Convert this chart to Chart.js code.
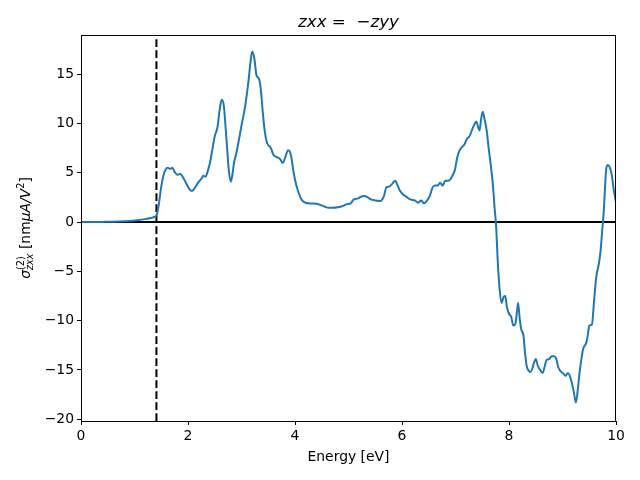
<!DOCTYPE html>
<html>
<head>
<meta charset="utf-8">
<script src="https://cdn.jsdelivr.net/npm/chart.js@4"></script>
<style>
  body { margin: 0; background: #fff; }
  #wrap { width: 640px; height: 480px; }
</style>
</head>
<body>
<div id="wrap"><canvas id="sigmaChart" width="640" height="480"></canvas></div>
<script>
// data
const energy = [
	0.00, 0.40, 0.70, 0.90, 1.05, 1.20, 1.30, 1.38, 1.42, 1.46, 1.50, 1.54, 1.58, 1.62, 1.67, 1.71, 1.75, 1.80, 1.85, 1.90,
	1.96, 2.02, 2.07, 2.12, 2.19, 2.25, 2.29, 2.33, 2.37, 2.41, 2.46, 2.50, 2.55, 2.59, 2.63, 2.67, 2.70, 2.73, 2.76, 2.80,
	2.83, 2.86, 2.90, 2.94, 3.00, 3.07, 3.13, 3.17, 3.20, 3.24, 3.28, 3.33, 3.36, 3.40, 3.44, 3.48, 3.54, 3.60, 3.66, 3.72,
	3.77, 3.82, 3.87, 3.90, 3.93, 3.97, 4.00, 4.06, 4.12, 4.18, 4.25, 4.40, 4.50, 4.62, 4.70, 4.80, 4.90, 4.96, 5.04, 5.10,
	5.18, 5.24, 5.30, 5.36, 5.42, 5.50, 5.60, 5.66, 5.71, 5.76, 5.82, 5.87, 5.92, 5.96, 6.02, 6.10, 6.15, 6.24, 6.30, 6.36,
	6.41, 6.47, 6.52, 6.57, 6.62, 6.67, 6.71, 6.76, 6.81, 6.86, 6.90, 6.95, 6.99, 7.03, 7.07, 7.12, 7.17, 7.21, 7.27, 7.32,
	7.36, 7.39, 7.42, 7.45, 7.48, 7.51, 7.54, 7.58, 7.62, 7.67, 7.70, 7.73, 7.76, 7.79, 7.82, 7.86, 7.90, 7.93, 7.96, 8.00,
	8.04, 8.08, 8.12, 8.15, 8.17, 8.20, 8.23, 8.27, 8.30, 8.33, 8.37, 8.40, 8.44, 8.47, 8.50, 8.54, 8.58, 8.63, 8.67, 8.70,
	8.75, 8.80, 8.84, 8.88, 8.92, 8.96, 9.02, 9.06, 9.10, 9.13, 9.17, 9.21, 9.25, 9.28, 9.31, 9.35, 9.39, 9.44, 9.47, 9.50,
	9.55, 9.59, 9.63, 9.68, 9.71, 9.74, 9.77, 9.80, 9.82, 9.85, 9.88, 9.92, 9.96, 10.00
];
const sigmaZxx = [
	0.00, 0.02, 0.05, 0.10, 0.18, 0.30, 0.42, 0.55, 0.80, 2.0, 3.6, 4.7, 5.3, 5.5, 5.4, 5.5, 5.1, 4.8, 4.9, 4.6,
	4.0, 3.4, 3.15, 3.4, 4.0, 4.4, 4.7, 4.6, 5.2, 6.0, 7.5, 8.7, 9.6, 11.3, 12.4, 11.8, 9.8, 7.6, 5.4, 4.1,
	4.8, 6.0, 6.9, 8.0, 9.8, 11.8, 14.3, 16.3, 17.3, 16.6, 14.9, 14.5, 13.5, 11.0, 9.0, 8.0, 7.6, 6.8, 6.6, 6.4,
	6.0, 6.6, 7.3, 7.2, 6.6, 5.2, 4.3, 3.1, 2.3, 2.0, 1.9, 1.85, 1.7, 1.45, 1.45, 1.5, 1.65, 1.8, 1.9, 2.3,
	2.4, 2.6, 2.65, 2.5, 2.3, 2.2, 2.15, 2.6, 3.55, 3.6, 3.9, 4.2, 3.7, 3.2, 2.8, 2.5, 2.3, 2.2, 1.97, 2.2,
	1.9, 2.2, 2.65, 3.5, 3.7, 3.7, 4.0, 3.7, 4.2, 4.2, 4.3, 4.8, 5.3, 6.5, 7.2, 7.6, 7.9, 8.4, 8.8, 9.5,
	10.0, 10.2, 9.7, 9.3, 10.5, 11.2, 10.5, 9.4, 7.5, 5.3, 3.7, 1.5, -0.5, -4.0, -6.5, -8.2, -7.6, -7.5, -8.6, -9.3,
	-9.6, -10.5, -10.3, -9.0, -8.2, -9.8, -10.9, -11.5, -13.3, -14.6, -15.1, -15.2, -14.8, -14.2, -13.9, -14.6, -15.0, -15.3, -14.6, -14.0,
	-13.9, -13.6, -13.6, -13.8, -14.7, -15.1, -15.4, -15.6, -15.3, -15.5, -16.2, -17.2, -18.3, -17.3, -15.7, -14.0, -12.8, -12.3, -11.6, -10.5,
	-10.4, -8.0, -5.6, -4.2, -3.0, -1.0, 1.0, 4.0, 5.5, 5.8, 5.6, 4.8, 3.2, 2.0
];
const gapEnergy = 1.41;
const xTicks = [0, 2, 4, 6, 8, 10];
const yTicks = [-20, -15, -10, -5, 0, 5, 10, 15];
const xRange = [0, 10];
const yRange = [-20.18, 18.98];

const FONT = "'DejaVu Sans', sans-serif";

function drawPieces(ctx, pieces, cx, cy)
{
	// pieces: {t, size, italic, dy, stackW, stacked}
	let total = 0;
	const widths = pieces.map(p => {
		ctx.font = (p.italic ? 'italic ' : '') + p.size + 'px ' + FONT;
		return ctx.measureText(p.t).width;
	});
	pieces.forEach((p, i) => { if (!p.stacked) total += p.stackW ? Math.max(widths[i], p.stackW) : widths[i]; });
	let x = cx - total / 2;
	let lastX = x;
	pieces.forEach((p, i) => {
		ctx.font = (p.italic ? 'italic ' : '') + p.size + 'px ' + FONT;
		if (p.stacked) {
			ctx.fillText(p.t, lastX, cy + (p.dy || 0));
			return;
		}
		ctx.fillText(p.t, x, cy + (p.dy || 0));
		lastX = x;
		x += p.stackW ? Math.max(widths[i], p.stackW) : widths[i];
	});
}

const decorations = {
	id: 'decorations',
	afterDraw(chart) {
		const ctx = chart.ctx;
		const a = chart.chartArea;
		ctx.save();
		ctx.strokeStyle = '#000';
		ctx.lineWidth = 1;
		ctx.strokeRect(Math.round(a.left) + 0.5, Math.round(a.top) + 0.5, Math.round(a.right - a.left) - 1, Math.round(a.bottom - a.top));
		ctx.fillStyle = '#000';
		ctx.textBaseline = 'alphabetic';
		ctx.textAlign = 'left';

		// title
		drawPieces(ctx, [
			{t: 'zxx', size: 16.7, italic: true},
			{t: ' =  ', size: 16.7},
			{t: '\u2212', size: 16.7},
			{t: 'zyy', size: 16.7, italic: true}
		], (a.left + a.right) / 2, 27);

		// y axis label, rotated
		ctx.translate(30, (a.top + a.bottom) / 2);
		ctx.rotate(-Math.PI / 2);
		ctx.font = 'italic 9.7px ' + FONT;
		const subW = ctx.measureText('zxx').width;
		drawPieces(ctx, [
			{t: '\u03c3', size: 13.9, italic: true},
			{t: '(2)', size: 9.7, dy: -6, stackW: subW},
			{t: 'zxx', size: 9.7, italic: true, dy: 3, stacked: true},
			{t: ' [nm', size: 13.9},
			{t: '\u03bcA/V', size: 13.9, italic: true},
			{t: '2', size: 9.7, dy: -6},
			{t: ']', size: 13.9}
		], 0, 0);
		ctx.restore();
	}
};

const ctx = document.getElementById('sigmaChart').getContext('2d');
const sigmaChart = new Chart(ctx, {
	type: 'line',
	data: {
		datasets: [{
			label: 'zxx',
			data: energy.map((e, i) => ({x: e, y: sigmaZxx[i]})),
			borderColor: '#1f77b4',
			borderWidth: 2,
			pointRadius: 0,
			cubicInterpolationMode: 'monotone',
			order: 0
		}, {
			label: 'zero',
			data: [{x: xRange[0], y: 0}, {x: xRange[1], y: 0}],
			borderColor: '#000',
			borderWidth: 2,
			pointRadius: 0,
			order: 1
		}, {
			label: 'gap',
			data: [{x: gapEnergy, y: yRange[0]}, {x: gapEnergy, y: yRange[1]}],
			borderColor: '#000',
			borderWidth: 2,
			borderDash: [7.7, 3.3],
			pointRadius: 0,
			order: 1
		}]
	},
	options: {
		responsive: false,
		animation: false,
		layout: {
			padding: {top: 35, right: 24, left: 0, bottom: 0}
		},
		plugins: {
			legend: {display: false},
			tooltip: {enabled: false},
			title: {display: false}
		},
		scales: {
			x: {
				type: 'linear',
				min: xRange[0],
				max: xRange[1],
				afterBuildTicks: s => { s.ticks = xTicks.map(v => ({value: v})); },
				afterFit: s => { s.height = 59; },
				grid: {drawOnChartArea: false, drawTicks: true, tickLength: 4, color: '#000'},
				border: {display: true, color: '#000'},
				ticks: {color: '#000', padding: 3, maxRotation: 0, font: {family: FONT, size: 13.9}},
				title: {display: true, text: 'Energy [eV]', color: '#000', font: {family: FONT, size: 13.9}, padding: {top: 4, bottom: 14}}
			},
			y: {
				type: 'linear',
				min: yRange[0],
				max: yRange[1],
				afterBuildTicks: s => { s.ticks = yTicks.map(v => ({value: v})); },
				afterFit: s => { s.width = 81; },
				grid: {drawOnChartArea: false, drawTicks: true, tickLength: 4, color: '#000'},
				border: {display: true, color: '#000'},
				ticks: {color: '#000', padding: 3, font: {family: FONT, size: 13.9},
					callback: v => (v < 0 ? '\u2212' + Math.abs(v) : String(v))}
			}
		}
	},
	plugins: [decorations]
});
</script>
</body>
</html>
